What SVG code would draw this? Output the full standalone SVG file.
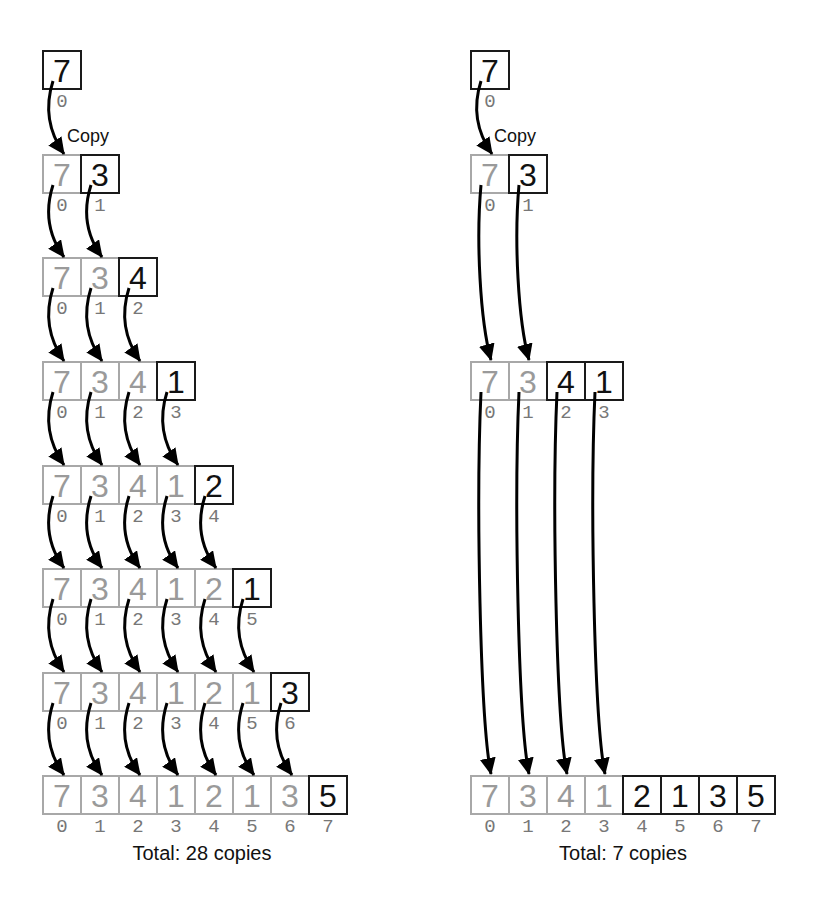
<svg xmlns="http://www.w3.org/2000/svg" width="813" height="907" viewBox="0 0 813 907">
<style>
.g{fill:#fff;stroke:#a8a8a8;stroke-width:2}
.b{fill:#fff;stroke:#1a1a1a;stroke-width:2}
.gd{font-family:"Liberation Sans",Arial,sans-serif;font-size:32px;fill:#9a9a9a;text-anchor:middle}
.bd{font-family:"Liberation Sans",Arial,sans-serif;font-size:32px;fill:#111;text-anchor:middle}
.ix{font-family:"Liberation Mono","Courier New",monospace;font-size:19px;fill:#777;text-anchor:middle}
.lbl{font-family:"Liberation Sans",Arial,sans-serif;font-size:18px;fill:#111}
.tot{font-family:"Liberation Sans",Arial,sans-serif;font-size:20px;fill:#111;text-anchor:middle}
.ar{fill:none;stroke:#000;stroke-width:3;marker-end:url(#ah)}
</style>
<defs>
<marker id="ah" markerWidth="17" markerHeight="16" refX="16" refY="8" orient="auto" markerUnits="userSpaceOnUse"><path d="M0,0 L17,8 L0,16 z" fill="#000"/></marker>
</defs>
<rect width="813" height="907" fill="#fff"/>

<!-- LEFT -->
<g id="L0">
<rect class="b" x="43" y="51" width="38" height="38"/><text class="bd" x="62" y="82">7</text>
<text class="ix" x="62" y="107">0</text>
</g>
<g id="L1">
<rect class="g" x="43" y="155" width="38" height="38"/><text class="gd" x="62" y="186">7</text>
<rect class="b" x="81" y="155" width="38" height="38"/><text class="bd" x="100" y="186">3</text>
<text class="ix" x="62" y="211">0</text><text class="ix" x="100" y="211">1</text>
</g>
<g id="L2">
<rect class="g" x="43" y="258" width="38" height="38"/><text class="gd" x="62" y="289">7</text>
<rect class="g" x="81" y="258" width="38" height="38"/><text class="gd" x="100" y="289">3</text>
<rect class="b" x="119" y="258" width="38" height="38"/><text class="bd" x="138" y="289">4</text>
<text class="ix" x="62" y="314">0</text><text class="ix" x="100" y="314">1</text><text class="ix" x="138" y="314">2</text>
</g>
<g id="L3">
<rect class="g" x="43" y="362" width="38" height="38"/><text class="gd" x="62" y="393">7</text>
<rect class="g" x="81" y="362" width="38" height="38"/><text class="gd" x="100" y="393">3</text>
<rect class="g" x="119" y="362" width="38" height="38"/><text class="gd" x="138" y="393">4</text>
<rect class="b" x="157" y="362" width="38" height="38"/><text class="bd" x="176" y="393">1</text>
<text class="ix" x="62" y="418">0</text><text class="ix" x="100" y="418">1</text><text class="ix" x="138" y="418">2</text><text class="ix" x="176" y="418">3</text>
</g>
<g id="L4">
<rect class="g" x="43" y="466" width="38" height="38"/><text class="gd" x="62" y="497">7</text>
<rect class="g" x="81" y="466" width="38" height="38"/><text class="gd" x="100" y="497">3</text>
<rect class="g" x="119" y="466" width="38" height="38"/><text class="gd" x="138" y="497">4</text>
<rect class="g" x="157" y="466" width="38" height="38"/><text class="gd" x="176" y="497">1</text>
<rect class="b" x="195" y="466" width="38" height="38"/><text class="bd" x="214" y="497">2</text>
<text class="ix" x="62" y="522">0</text><text class="ix" x="100" y="522">1</text><text class="ix" x="138" y="522">2</text><text class="ix" x="176" y="522">3</text><text class="ix" x="214" y="522">4</text>
</g>
<g id="L5">
<rect class="g" x="43" y="569" width="38" height="38"/><text class="gd" x="62" y="600">7</text>
<rect class="g" x="81" y="569" width="38" height="38"/><text class="gd" x="100" y="600">3</text>
<rect class="g" x="119" y="569" width="38" height="38"/><text class="gd" x="138" y="600">4</text>
<rect class="g" x="157" y="569" width="38" height="38"/><text class="gd" x="176" y="600">1</text>
<rect class="g" x="195" y="569" width="38" height="38"/><text class="gd" x="214" y="600">2</text>
<rect class="b" x="233" y="569" width="38" height="38"/><text class="bd" x="252" y="600">1</text>
<text class="ix" x="62" y="625">0</text><text class="ix" x="100" y="625">1</text><text class="ix" x="138" y="625">2</text><text class="ix" x="176" y="625">3</text><text class="ix" x="214" y="625">4</text><text class="ix" x="252" y="625">5</text>
</g>
<g id="L6">
<rect class="g" x="43" y="673" width="38" height="38"/><text class="gd" x="62" y="704">7</text>
<rect class="g" x="81" y="673" width="38" height="38"/><text class="gd" x="100" y="704">3</text>
<rect class="g" x="119" y="673" width="38" height="38"/><text class="gd" x="138" y="704">4</text>
<rect class="g" x="157" y="673" width="38" height="38"/><text class="gd" x="176" y="704">1</text>
<rect class="g" x="195" y="673" width="38" height="38"/><text class="gd" x="214" y="704">2</text>
<rect class="g" x="233" y="673" width="38" height="38"/><text class="gd" x="252" y="704">1</text>
<rect class="b" x="271" y="673" width="38" height="38"/><text class="bd" x="290" y="704">3</text>
<text class="ix" x="62" y="729">0</text><text class="ix" x="100" y="729">1</text><text class="ix" x="138" y="729">2</text><text class="ix" x="176" y="729">3</text><text class="ix" x="214" y="729">4</text><text class="ix" x="252" y="729">5</text><text class="ix" x="290" y="729">6</text>
</g>
<g id="L7">
<rect class="g" x="43" y="776" width="38" height="38"/><text class="gd" x="62" y="807">7</text>
<rect class="g" x="81" y="776" width="38" height="38"/><text class="gd" x="100" y="807">3</text>
<rect class="g" x="119" y="776" width="38" height="38"/><text class="gd" x="138" y="807">4</text>
<rect class="g" x="157" y="776" width="38" height="38"/><text class="gd" x="176" y="807">1</text>
<rect class="g" x="195" y="776" width="38" height="38"/><text class="gd" x="214" y="807">2</text>
<rect class="g" x="233" y="776" width="38" height="38"/><text class="gd" x="252" y="807">1</text>
<rect class="g" x="271" y="776" width="38" height="38"/><text class="gd" x="290" y="807">3</text>
<rect class="b" x="309" y="776" width="38" height="38"/><text class="bd" x="328" y="807">5</text>
<text class="ix" x="62" y="832">0</text><text class="ix" x="100" y="832">1</text><text class="ix" x="138" y="832">2</text><text class="ix" x="176" y="832">3</text><text class="ix" x="214" y="832">4</text><text class="ix" x="252" y="832">5</text><text class="ix" x="290" y="832">6</text><text class="ix" x="328" y="832">7</text>
</g>
<text class="lbl" x="67" y="142">Copy</text>
<text class="tot" x="202" y="860">Total: 28 copies</text>

<!-- RIGHT -->
<g id="R0">
<rect class="b" x="471" y="51" width="38" height="38"/><text class="bd" x="490" y="82">7</text>
<text class="ix" x="490" y="107">0</text>
</g>
<g id="R1">
<rect class="g" x="471" y="155" width="38" height="38"/><text class="gd" x="490" y="186">7</text>
<rect class="b" x="509" y="155" width="38" height="38"/><text class="bd" x="528" y="186">3</text>
<text class="ix" x="490" y="211">0</text><text class="ix" x="528" y="211">1</text>
</g>
<g id="R2">
<rect class="g" x="471" y="362" width="38" height="38"/><text class="gd" x="490" y="393">7</text>
<rect class="g" x="509" y="362" width="38" height="38"/><text class="gd" x="528" y="393">3</text>
<rect class="b" x="547" y="362" width="38" height="38"/><text class="bd" x="566" y="393">4</text>
<rect class="b" x="585" y="362" width="38" height="38"/><text class="bd" x="604" y="393">1</text>
<text class="ix" x="490" y="418">0</text><text class="ix" x="528" y="418">1</text><text class="ix" x="566" y="418">2</text><text class="ix" x="604" y="418">3</text>
</g>
<g id="R3">
<rect class="g" x="471" y="776" width="38" height="38"/><text class="gd" x="490" y="807">7</text>
<rect class="g" x="509" y="776" width="38" height="38"/><text class="gd" x="528" y="807">3</text>
<rect class="g" x="547" y="776" width="38" height="38"/><text class="gd" x="566" y="807">4</text>
<rect class="g" x="585" y="776" width="38" height="38"/><text class="gd" x="604" y="807">1</text>
<rect class="b" x="623" y="776" width="38" height="38"/><text class="bd" x="642" y="807">2</text>
<rect class="b" x="661" y="776" width="38" height="38"/><text class="bd" x="680" y="807">1</text>
<rect class="b" x="699" y="776" width="38" height="38"/><text class="bd" x="718" y="807">3</text>
<rect class="b" x="737" y="776" width="38" height="38"/><text class="bd" x="756" y="807">5</text>
<text class="ix" x="490" y="832">0</text><text class="ix" x="528" y="832">1</text><text class="ix" x="566" y="832">2</text><text class="ix" x="604" y="832">3</text><text class="ix" x="642" y="832">4</text><text class="ix" x="680" y="832">5</text><text class="ix" x="718" y="832">6</text><text class="ix" x="756" y="832">7</text>
</g>
<text class="lbl" x="494" y="142">Copy</text>
<text class="tot" x="623" y="860">Total: 7 copies</text>

<g id="connectors">
<path class="ar" d="M53 81 C45 106 48 131 64 154"/>
<path class="ar" d="M53 185 C45 210 48 235 64 257"/>
<path class="ar" d="M91 185 C83 210 86 235 102 257"/>
<path class="ar" d="M53 288 C45 313 48 338 64 361"/>
<path class="ar" d="M91 288 C83 313 86 338 102 361"/>
<path class="ar" d="M129 288 C121 313 124 338 140 361"/>
<path class="ar" d="M53 392 C45 417 48 442 64 465"/>
<path class="ar" d="M91 392 C83 417 86 442 102 465"/>
<path class="ar" d="M129 392 C121 417 124 442 140 465"/>
<path class="ar" d="M167 392 C159 417 162 442 178 465"/>
<path class="ar" d="M53 496 C45 521 48 546 64 568"/>
<path class="ar" d="M91 496 C83 521 86 546 102 568"/>
<path class="ar" d="M129 496 C121 521 124 546 140 568"/>
<path class="ar" d="M167 496 C159 521 162 546 178 568"/>
<path class="ar" d="M205 496 C197 521 200 546 216 568"/>
<path class="ar" d="M53 599 C45 624 48 649 64 672"/>
<path class="ar" d="M91 599 C83 624 86 649 102 672"/>
<path class="ar" d="M129 599 C121 624 124 649 140 672"/>
<path class="ar" d="M167 599 C159 624 162 649 178 672"/>
<path class="ar" d="M205 599 C197 624 200 649 216 672"/>
<path class="ar" d="M243 599 C235 624 238 649 254 672"/>
<path class="ar" d="M53 703 C45 728 48 753 64 775"/>
<path class="ar" d="M91 703 C83 728 86 753 102 775"/>
<path class="ar" d="M129 703 C121 728 124 753 140 775"/>
<path class="ar" d="M167 703 C159 728 162 753 178 775"/>
<path class="ar" d="M205 703 C197 728 200 753 216 775"/>
<path class="ar" d="M243 703 C235 728 238 753 254 775"/>
<path class="ar" d="M281 703 C273 728 276 753 292 775"/>
<path class="ar" d="M481 81 C473 106 476 131 492 154"/>
<path class="ar" d="M481 185 C476 240 480 320 491 360"/>
<path class="ar" d="M519 185 C514 240 518 320 529 360"/>
<path class="ar" d="M481 392 C476 500 480 720 491 774"/>
<path class="ar" d="M519 392 C514 500 518 720 529 774"/>
<path class="ar" d="M557 392 C552 500 556 720 567 774"/>
<path class="ar" d="M595 392 C590 500 594 720 605 774"/>
</g>
</svg>
